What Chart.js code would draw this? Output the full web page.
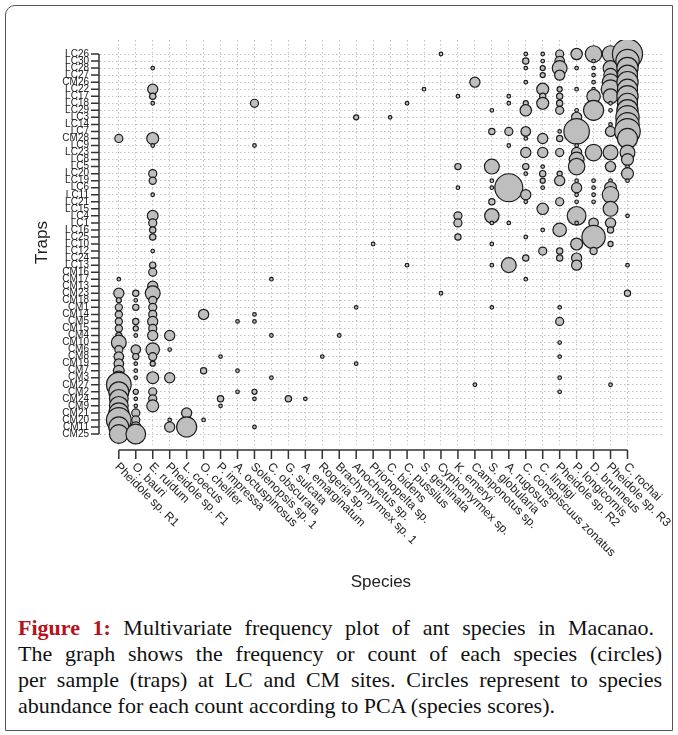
<!DOCTYPE html>
<html>
<head>
<meta charset="utf-8">
<script src="https://cdn.jsdelivr.net/npm/chart.js@4.4.1/dist/chart.umd.min.js"></script>
<style>
  html, body { margin: 0; padding: 0; background: #fff; }
  .frame { position: absolute; left: 5px; top: 5px; width: 668px; height: 726px; border: 1px solid #555; border-radius: 10px 0 0 0; box-sizing: border-box; }
  #chart { position: absolute; left: 0; top: 0; }
  .caption { position: absolute; left: 18px; top: 615px; width: 644px; font-family: "Liberation Serif", "Times New Roman", serif; font-size: 22px; line-height: 26px; color: #111; }
  .caption div { text-align: justify; text-align-last: justify; white-space: nowrap; }
  .caption div.first { width: 636px; }
  .caption div.last { text-align: left; text-align-last: left; }
  .caption b { color: #b5121b; }
</style>
</head>
<body>
<div class="frame"></div>
<canvas id="chart" width="678" height="600"></canvas>
<div class="caption">
  <div class="first"><b>Figure 1:</b> Multivariate frequency plot of ant species in Macanao.</div>
  <div>The graph shows the frequency or count of each species (circles)</div>
  <div>per sample (traps) at LC and CM sites. Circles represent to species</div>
  <div class="last">abundance for each count according to PCA (species scores).</div>
</div>
<script>
const species = ["Pheidole sp. R1", "O. bauri", "E. ruidum", "Pheidole sp. F1", "L. coecus", "O. chelifer",
  "P. impressa", "A. octuspinosus", "Solenopsis sp. 1", "C. obscurata", "G. sulcata", "A. emarginatum",
  "Rogeria sp.", "Brachymyrmex sp. 1", "Anochetus sp.", "Prionopelta sp.", "C. bidens", "C. pussilus",
  "S. geminata", "Cyphomyrmex sp.", "K. emeryi", "Camponotus sp.", "S. globularia", "A. rugosus",
  "C. conspiscuus zonatus", "C. lindigi", "Pheidole sp. R2", "P. longicornis", "D. brunneus",
  "Pheidole sp. R3", "C. rochai"];

// top to bottom
const traps = ["LC26", "LC30", "LC28", "LC27", "CM26", "LC22", "LC17", "LC18", "LC29", "LC3", "LC14", "LC7",
  "CM28", "LC9", "LC23", "LC8", "LC5", "LC20", "LC19", "LC6", "LC11", "LC21", "LC15", "LC4", "LC1", "LC16",
  "LC25", "LC10", "LC12", "LC24", "LC13", "CM16", "CM17", "CM13", "CM23", "CM18", "CM1", "CM14", "CM5",
  "CM15", "CM4", "CM10", "CM6", "CM8", "CM19", "CM7", "CM3", "CM27", "CM2", "CM24", "CM9", "CM21", "CM20",
  "CM11", "CM25"];

// counts per species: [trap, count]
const pheidoleR1 = [["CM28",5],["CM17",1],["CM23",8],["CM18",2],["CM1",4],["CM14",4],["CM5",4],["CM15",4],["CM4",3],["CM10",17],["CM6",5],["CM8",7],["CM19",7],["CM7",9],["CM3",14],["CM27",47],["CM2",31],["CM24",27],["CM9",27],["CM21",31],["CM20",47],["CM11",31],["CM25",27]];
const oBauri = [["CM23",3],["CM18",1],["CM1",3],["CM5",3],["CM15",2],["CM4",1],["CM6",7],["CM8",3],["CM19",1],["CM7",1],["CM3",1],["CM2",2],["CM24",1],["CM9",1],["CM21",5],["CM20",5],["CM11",8],["CM25",30]];
const eRuidum = [["LC28",1],["LC22",8],["LC17",3],["LC18",1],["CM28",11],["LC9",1],["LC20",5],["LC19",4],["LC11",1],["LC4",9],["LC1",5],["LC16",3],["LC25",3],["LC12",1],["LC13",3],["CM16",5],["CM13",8],["CM23",17],["CM18",5],["CM1",5],["CM14",5],["CM5",8],["CM15",5],["CM4",8],["CM6",14],["CM8",5],["CM19",2],["CM3",11],["CM2",5],["CM24",5],["CM9",11]];
const pheidoleF1 = [["CM4",8],["CM6",1],["CM3",8],["CM20",1],["CM11",8]];
const lCoecus = [["CM21",8],["CM11",31]];
const oChelifer = [["CM14",8],["CM7",3],["CM20",1]];
const pImpressa = [["CM8",1],["CM24",3],["CM9",1]];
const aOctuspinosus = [["CM5",1],["CM7",1],["CM2",1]];
const solenopsis1 = [["LC18",5],["LC9",1],["CM14",1],["CM5",1],["CM2",2],["CM24",1],["CM11",1]];
const cObscurata = [["CM17",1],["CM4",1],["CM3",1]];
const gSulcata = [["CM24",3]];
const aEmarginatum = [["CM24",1]];
const rogeria = [["CM8",1]];
const brachymyrmex1 = [["CM4",1]];
const anochetus = [["LC3",2],["CM1",1],["CM19",1]];
const prionopelta = [["LC10",1]];
const cBidens = [["LC3",1]];
const cPussilus = [["LC18",1],["LC13",1]];
const sGeminata = [["LC22",1]];
const cyphomyrmex = [["LC26",1],["CM23",1]];
const kEmeryi = [["LC17",1],["LC5",3],["LC6",1],["LC4",5],["LC1",5],["LC25",3]];
const camponotus = [["CM26",8],["CM27",1]];
const sGlobularia = [["LC29",1],["LC7",3],["LC5",17],["LC19",1],["LC6",1],["LC21",3],["LC4",16],["LC1",1],["LC10",1],["LC13",1],["CM1",1]];
const aRugosus = [["LC17",1],["LC18",1],["LC7",5],["LC9",1],["LC6",60],["LC1",1],["LC13",17]];
const cConspiscuus = [["LC26",1],["LC30",3],["LC28",1],["CM26",1],["LC18",2],["LC29",10],["LC7",7],["CM28",1],["LC23",8],["LC5",3],["LC20",1],["LC11",8],["LC21",1],["LC25",1],["LC24",3],["CM17",1]];
const cLindigi = [["LC26",1],["LC30",1],["LC28",2],["LC27",2],["LC22",11],["LC17",3],["LC18",11],["CM28",8],["LC23",8],["LC5",1],["LC20",3],["LC19",2],["LC6",1],["LC15",10],["LC16",1],["LC12",5]];
const pheidoleR2 = [["LC26",5],["LC30",7],["LC28",17],["LC27",8],["LC22",2],["LC17",3],["LC18",3],["LC29",5],["LC7",1],["CM28",3],["LC23",5],["LC20",2],["LC19",8],["LC21",5],["LC16",14],["LC12",3],["LC24",3],["CM1",1],["CM5",5],["CM10",1],["CM8",1],["CM3",1],["CM2",1]];
const pLongicornis = [["LC26",10],["LC28",1],["LC22",1],["LC29",1],["LC3",8],["LC7",50],["LC9",1],["LC23",8],["LC8",17],["LC5",21],["LC19",1],["LC6",8],["LC11",1],["LC21",1],["LC4",27],["LC1",1],["LC10",11],["LC24",8],["LC13",8]];
const dBrunneus = [["LC26",21],["LC30",1],["LC28",1],["LC27",1],["CM26",1],["LC22",1],["LC17",14],["LC29",31],["LC23",21],["LC19",1],["LC6",1],["LC11",1],["LC21",1],["LC1",7],["LC25",42],["LC12",4]];
const pheidoleR3 = [["LC26",21],["LC28",17],["LC27",14],["CM26",21],["LC22",27],["LC17",17],["LC18",1],["LC29",1],["LC14",1],["LC7",8],["LC23",17],["LC5",8],["LC19",1],["LC6",11],["LC11",21],["LC15",17],["LC1",8],["LC16",3],["LC10",2],["CM27",1]];
const cRochai = [["LC26",70],["LC30",42],["LC28",35],["LC27",31],["CM26",35],["LC22",31],["LC17",35],["LC18",31],["LC29",35],["LC3",42],["LC14",42],["LC7",50],["CM28",31],["LC23",17],["LC8",11],["LC5",1],["LC20",11],["LC19",1],["LC4",1],["LC13",1],["CM23",3]];

const speciesCounts = [pheidoleR1, oBauri, eRuidum, pheidoleF1, lCoecus, oChelifer, pImpressa, aOctuspinosus,
  solenopsis1, cObscurata, gSulcata, aEmarginatum, rogeria, brachymyrmex1, anochetus, prionopelta, cBidens,
  cPussilus, sGeminata, cyphomyrmex, kEmeryi, camponotus, sGlobularia, aRugosus, cConspiscuus, cLindigi,
  pheidoleR2, pLongicornis, dBrunneus, pheidoleR3, cRochai];

const points = [];
speciesCounts.forEach((list, i) => {
  list.forEach(([trap, n]) => {
    points.push({ x: i, y: traps.indexOf(trap), r: 1.8 * Math.sqrt(n) });
  });
});

const labelFont = "'Liberation Sans', Arial, sans-serif";

// R-style axes: lines only between first and last tick, rotated species names
const rAxes = {
  id: "rAxes",
  afterDraw(chart) {
    const { ctx, chartArea, scales: { x, y } } = chart;
    const x0 = x.getPixelForValue(0), x1 = x.getPixelForValue(species.length - 1);
    const y0 = y.getPixelForValue(0), y1 = y.getPixelForValue(traps.length - 1);
    const axY = chartArea.bottom + 5, axX = chartArea.left - 1;

    ctx.save();
    ctx.strokeStyle = "#333";
    ctx.lineWidth = 1.5;
    ctx.beginPath();
    ctx.moveTo(x0, axY);
    ctx.lineTo(x1, axY);
    species.forEach((_, i) => {
      const px = x.getPixelForValue(i);
      ctx.moveTo(px, axY);
      ctx.lineTo(px, axY + 9);
    });
    ctx.moveTo(axX, y0);
    ctx.lineTo(axX, y1);
    traps.forEach((_, j) => {
      const py = y.getPixelForValue(j);
      ctx.moveTo(axX, py);
      ctx.lineTo(axX - 8, py);
    });
    ctx.stroke();

    ctx.fillStyle = "#222";
    ctx.font = "12px " + labelFont;
    ctx.textAlign = "left";
    ctx.textBaseline = "middle";
    species.forEach((name, i) => {
      ctx.save();
      ctx.translate(x.getPixelForValue(i) - 2, axY + 15);
      ctx.rotate(Math.PI / 4);
      ctx.fillText(name, 0, 0);
      ctx.restore();
    });

    ctx.font = "17px " + labelFont;
    ctx.textAlign = "center";
    ctx.fillText("Species", (chartArea.left + chartArea.right) / 2, 582);
    ctx.translate(42, (chartArea.top + chartArea.bottom) / 2);
    ctx.rotate(-Math.PI / 2);
    ctx.fillText("Traps", 0, 0);
    ctx.restore();
  }
};

new Chart("chart", {
  type: "bubble",
  data: {
    datasets: [{
      data: points,
      backgroundColor: "#bebebe",
      borderColor: "#1c1c1c",
      borderWidth: 1.2
    }]
  },
  options: {
    responsive: false,
    animation: false,
    events: [],
    layout: { padding: { top: 40, right: 13, left: 0, bottom: 0 } },
    plugins: { legend: { display: false }, tooltip: { enabled: false } },
    scales: {
      x: {
        type: "linear",
        min: -1.11,
        max: 32.02,
        afterBuildTicks: s => { s.ticks = species.map((_, i) => ({ value: i })); },
        afterFit: s => { s.height = 155; },
        ticks: { display: false },
        grid: { color: "#c4c4c4", lineWidth: 1, drawTicks: false },
        border: { display: false, dash: [1.5, 2.5] }
      },
      y: {
        type: "linear",
        reverse: true,
        min: -1.99,
        max: 55.56,
        afterBuildTicks: s => { s.ticks = traps.map((_, j) => ({ value: j })); },
        afterFit: s => { s.width = 100; },
        ticks: {
          autoSkip: false,
          padding: 11,
          color: "#222",
          font: { family: labelFont, size: 10 },
          callback: v => traps[v]
        },
        grid: { color: "#c4c4c4", lineWidth: 1, drawTicks: false },
        border: { display: false, dash: [1.5, 2.5] }
      }
    }
  },
  plugins: [rAxes]
});
</script>
</body>
</html>
